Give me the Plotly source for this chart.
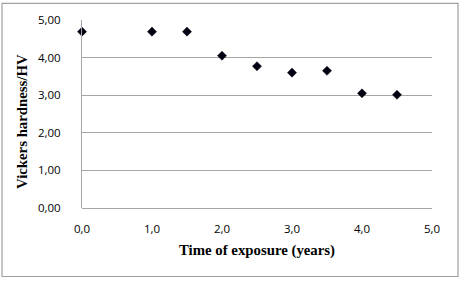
import plotly.graph_objects as go

time_years = [0.0, 1.0, 1.5, 2.0, 2.5, 3.0, 3.5, 4.0, 4.5]
hardness_hv = [4.69, 4.69, 4.69, 4.05, 3.77, 3.60, 3.65, 3.05, 3.01]

x_title = "Time of exposure (years)"
y_title = "Vickers hardness/HV"

W, H = 462, 281
L, R, T, B = 82, 30, 20, 73
pw, ph = W - L - R, H - T - B

def px(x):
    return (x - L) / pw

def py(y):
    return (H - B - y) / ph

fig = go.Figure()
fig.add_trace(go.Scatter(
    x=time_years, y=hardness_hv, mode="markers",
    marker=dict(symbol="diamond", size=7, color="#000010",
                line=dict(width=0.5, color="#000010")),
    showlegend=False, cliponaxis=False,
))

grid = "#a6a6a6"
tickfont = dict(family="Open Sans", size=11.5, color="#000000")
titlefont = dict(family="Liberation Serif", size=14.8, color="#000000", weight="bold")
fig.update_layout(
    width=W, height=H,
    margin=dict(l=L, r=R, t=T, b=B),
    paper_bgcolor="white", plot_bgcolor="white",
    separators=", ",
    xaxis=dict(range=[0, 5], dtick=1, tickformat=".1f", showgrid=False,
               zeroline=False, showline=False, ticks="",
               ticklabelstandoff=12, tickfont=tickfont),
    yaxis=dict(range=[0, 5], dtick=1, tickformat=".2f", showgrid=True,
               gridcolor=grid, gridwidth=1, zeroline=True, zerolinecolor=grid,
               zerolinewidth=1, showline=True, linecolor=grid, linewidth=1,
               ticks="", ticklabelstandoff=18, tickfont=tickfont),
    shapes=[dict(type="rect", xref="paper", yref="paper",
                 x0=px(2), x1=px(458), y0=py(276.5), y1=py(3.3),
                 line=dict(color="#a0a0a0", width=1.2), layer="below")],
    annotations=[
        dict(text=x_title, xref="paper", yref="paper", x=px(257), y=py(250),
             xanchor="center", yanchor="middle", showarrow=False, font=titlefont),
        dict(text=y_title, xref="paper", yref="paper", x=px(22), y=py(122),
             xanchor="center", yanchor="middle", showarrow=False, textangle=-90,
             font=titlefont),
    ],
)

fig.write_html("out.html")
